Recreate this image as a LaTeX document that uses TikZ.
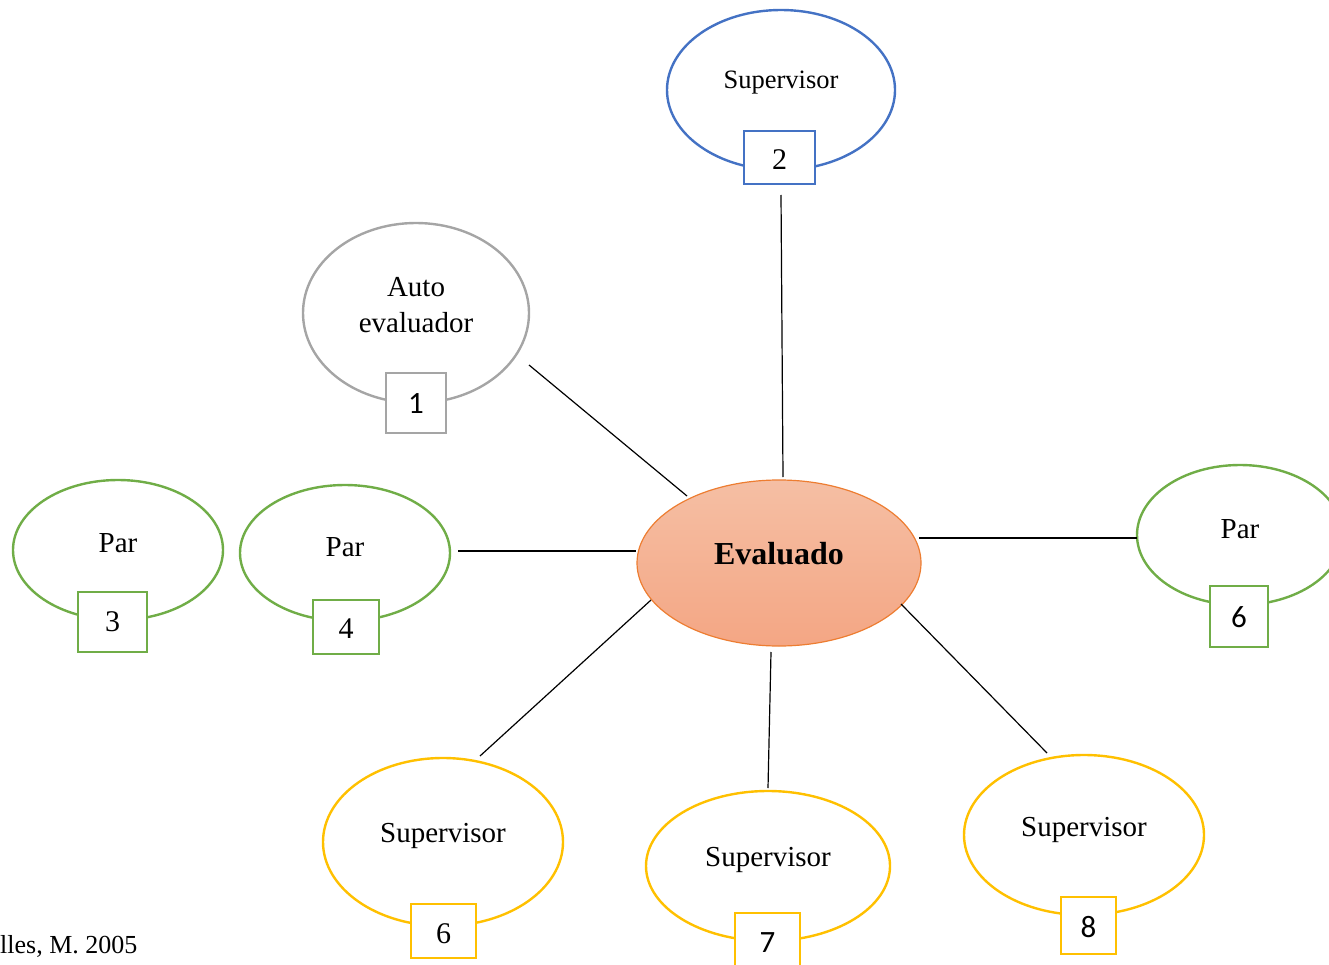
\documentclass[tikz,border=0pt]{standalone}
\usepackage{fontspec}
\setmainfont{Liberation Serif}
\newfontfamily\numsans{Carlito}
\usetikzlibrary{shapes.geometric}
\definecolor{cblue}{HTML}{4472C4}
\definecolor{cgrey}{HTML}{A5A5A5}
\definecolor{cgreen}{HTML}{70AD47}
\definecolor{cgold}{HTML}{FFC000}
\definecolor{corange}{HTML}{ED7D31}
\definecolor{ctop}{HTML}{F5BFA4}
\definecolor{cbot}{HTML}{F4A684}
\tikzset{
  role/.style={ellipse, draw=#1, line width=2.4pt, inner sep=0pt},
  numbox/.style={rectangle, draw=#1, line width=2.4pt, fill=white, inner sep=0pt},
  lbl/.style={inner sep=0pt, font=\fontsize{29}{36}\selectfont, align=center},
  serifnum/.style={font=\fontsize{30}{30}\selectfont},
  sansnum/.style={font=\numsans\fontsize{31}{31}\selectfont},
  link/.style={line width=1.2pt, black},
}
\begin{document}
\begin{tikzpicture}[x=1pt, y=-1pt]
\useasboundingbox (0,0) rectangle (1329,965);

% central node
\node[ellipse, draw=corange, line width=1.2pt, top color=ctop, bottom color=cbot,
      minimum width=284pt, minimum height=166pt, inner sep=0pt] (ev) at (779,563) {};
\node[inner sep=0pt, font=\bfseries\fontsize{32}{32}\selectfont] (evt) at (779,554) {Evaluado};

% evaluators
\node[role=cblue,  minimum width=228pt, minimum height=160pt] (s2) at (781,90) {};
\node[lbl, font=\fontsize{26.5}{30}\selectfont] (s2t) at (781,83) {Supervisor};
\node[numbox=cblue, minimum width=71pt, minimum height=53pt] (b2) at (779.5,157.5) {};
\node[serifnum, inner sep=0pt] (n2) at (779.5,160) {2};

\node[role=cgrey,  minimum width=226pt, minimum height=180pt] (a1) at (416,313) {};
\node[lbl] (a1t) at (416,305) {Auto\\evaluador};
\node[numbox=cgrey, minimum width=60pt, minimum height=60pt] (b1) at (416,403) {};
\node[sansnum, inner sep=0pt] (n1) at (416,404) {1};

\node[role=cgreen, minimum width=210pt, minimum height=140pt] (p3) at (118,550) {};
\node[lbl] (p3t) at (118,543) {Par};
\node[numbox=cgreen, minimum width=69pt, minimum height=60pt] (b3) at (112.5,622) {};
\node[serifnum, inner sep=0pt] (n3) at (112.5,622) {3};

\node[role=cgreen, minimum width=210pt, minimum height=136pt] (p4) at (345,553) {};
\node[lbl] (p4t) at (345,547) {Par};
\node[numbox=cgreen, minimum width=66pt, minimum height=54pt] (b4) at (346,627) {};
\node[serifnum, inner sep=0pt] (n4) at (346,629) {4};

\node[role=cgreen, minimum width=206pt, minimum height=140pt] (p6) at (1240,535) {};
\node[lbl] (p6t) at (1240,529) {Par};
\node[numbox=cgreen, minimum width=58pt, minimum height=61pt] (b6r) at (1239,616.5) {};
\node[sansnum, inner sep=0pt] (n6r) at (1239,617) {6};

\node[role=cgold,  minimum width=240pt, minimum height=168pt] (s6) at (443,842) {};
\node[lbl] (s6t) at (443,836) {Supervisor};
\node[numbox=cgold, minimum width=65pt, minimum height=54pt] (b6) at (443.5,931) {};
\node[serifnum, inner sep=0pt] (n6) at (443.5,934) {6};

\node[role=cgold,  minimum width=244pt, minimum height=150pt] (s7) at (768,866) {};
\node[lbl] (s7t) at (768,860) {Supervisor};
\node[numbox=cgold, minimum width=65pt, minimum height=62pt] (b7) at (767.5,944) {};
\node[sansnum, inner sep=0pt] (n7) at (767.5,943) {7};

\node[role=cgold,  minimum width=240pt, minimum height=160pt] (s8) at (1084,835) {};
\node[lbl] (s8t) at (1084,830) {Supervisor};
\node[numbox=cgold, minimum width=55pt, minimum height=57pt] (b8) at (1088.5,925.5) {};
\node[sansnum, inner sep=0pt] (n8) at (1088.5,927) {8};

% source note
\node[anchor=west, inner sep=0pt, font=\fontsize{26}{26}\selectfont] (src) at (0,946) {lles, M. 2005};

% connector end points
\coordinate (c2a) at (781,195);  \coordinate (c2b) at (783,477);
\coordinate (c1a) at (529,365);  \coordinate (c1b) at (687,496);
\coordinate (c4a) at (458,551);  \coordinate (c4b) at (636,551);
\coordinate (c6a) at (919,538);  \coordinate (c6b) at (1137,538);
\coordinate (c5a) at (651,600);  \coordinate (c5b) at (480,756);
\coordinate (c7a) at (771,652);  \coordinate (c7b) at (768,788);
\coordinate (c8a) at (901,604);  \coordinate (c8b) at (1047,753);

\draw[link] (c2a) -- (c2b);
\draw[link] (c1a) -- (c1b);
\draw[link] (c4a) -- (c4b);
\draw[link] (c6a) -- (c6b);
\draw[link] (c5a) -- (c5b);
\draw[link] (c7a) -- (c7b);
\draw[link] (c8a) -- (c8b);
\end{tikzpicture}
\end{document}
